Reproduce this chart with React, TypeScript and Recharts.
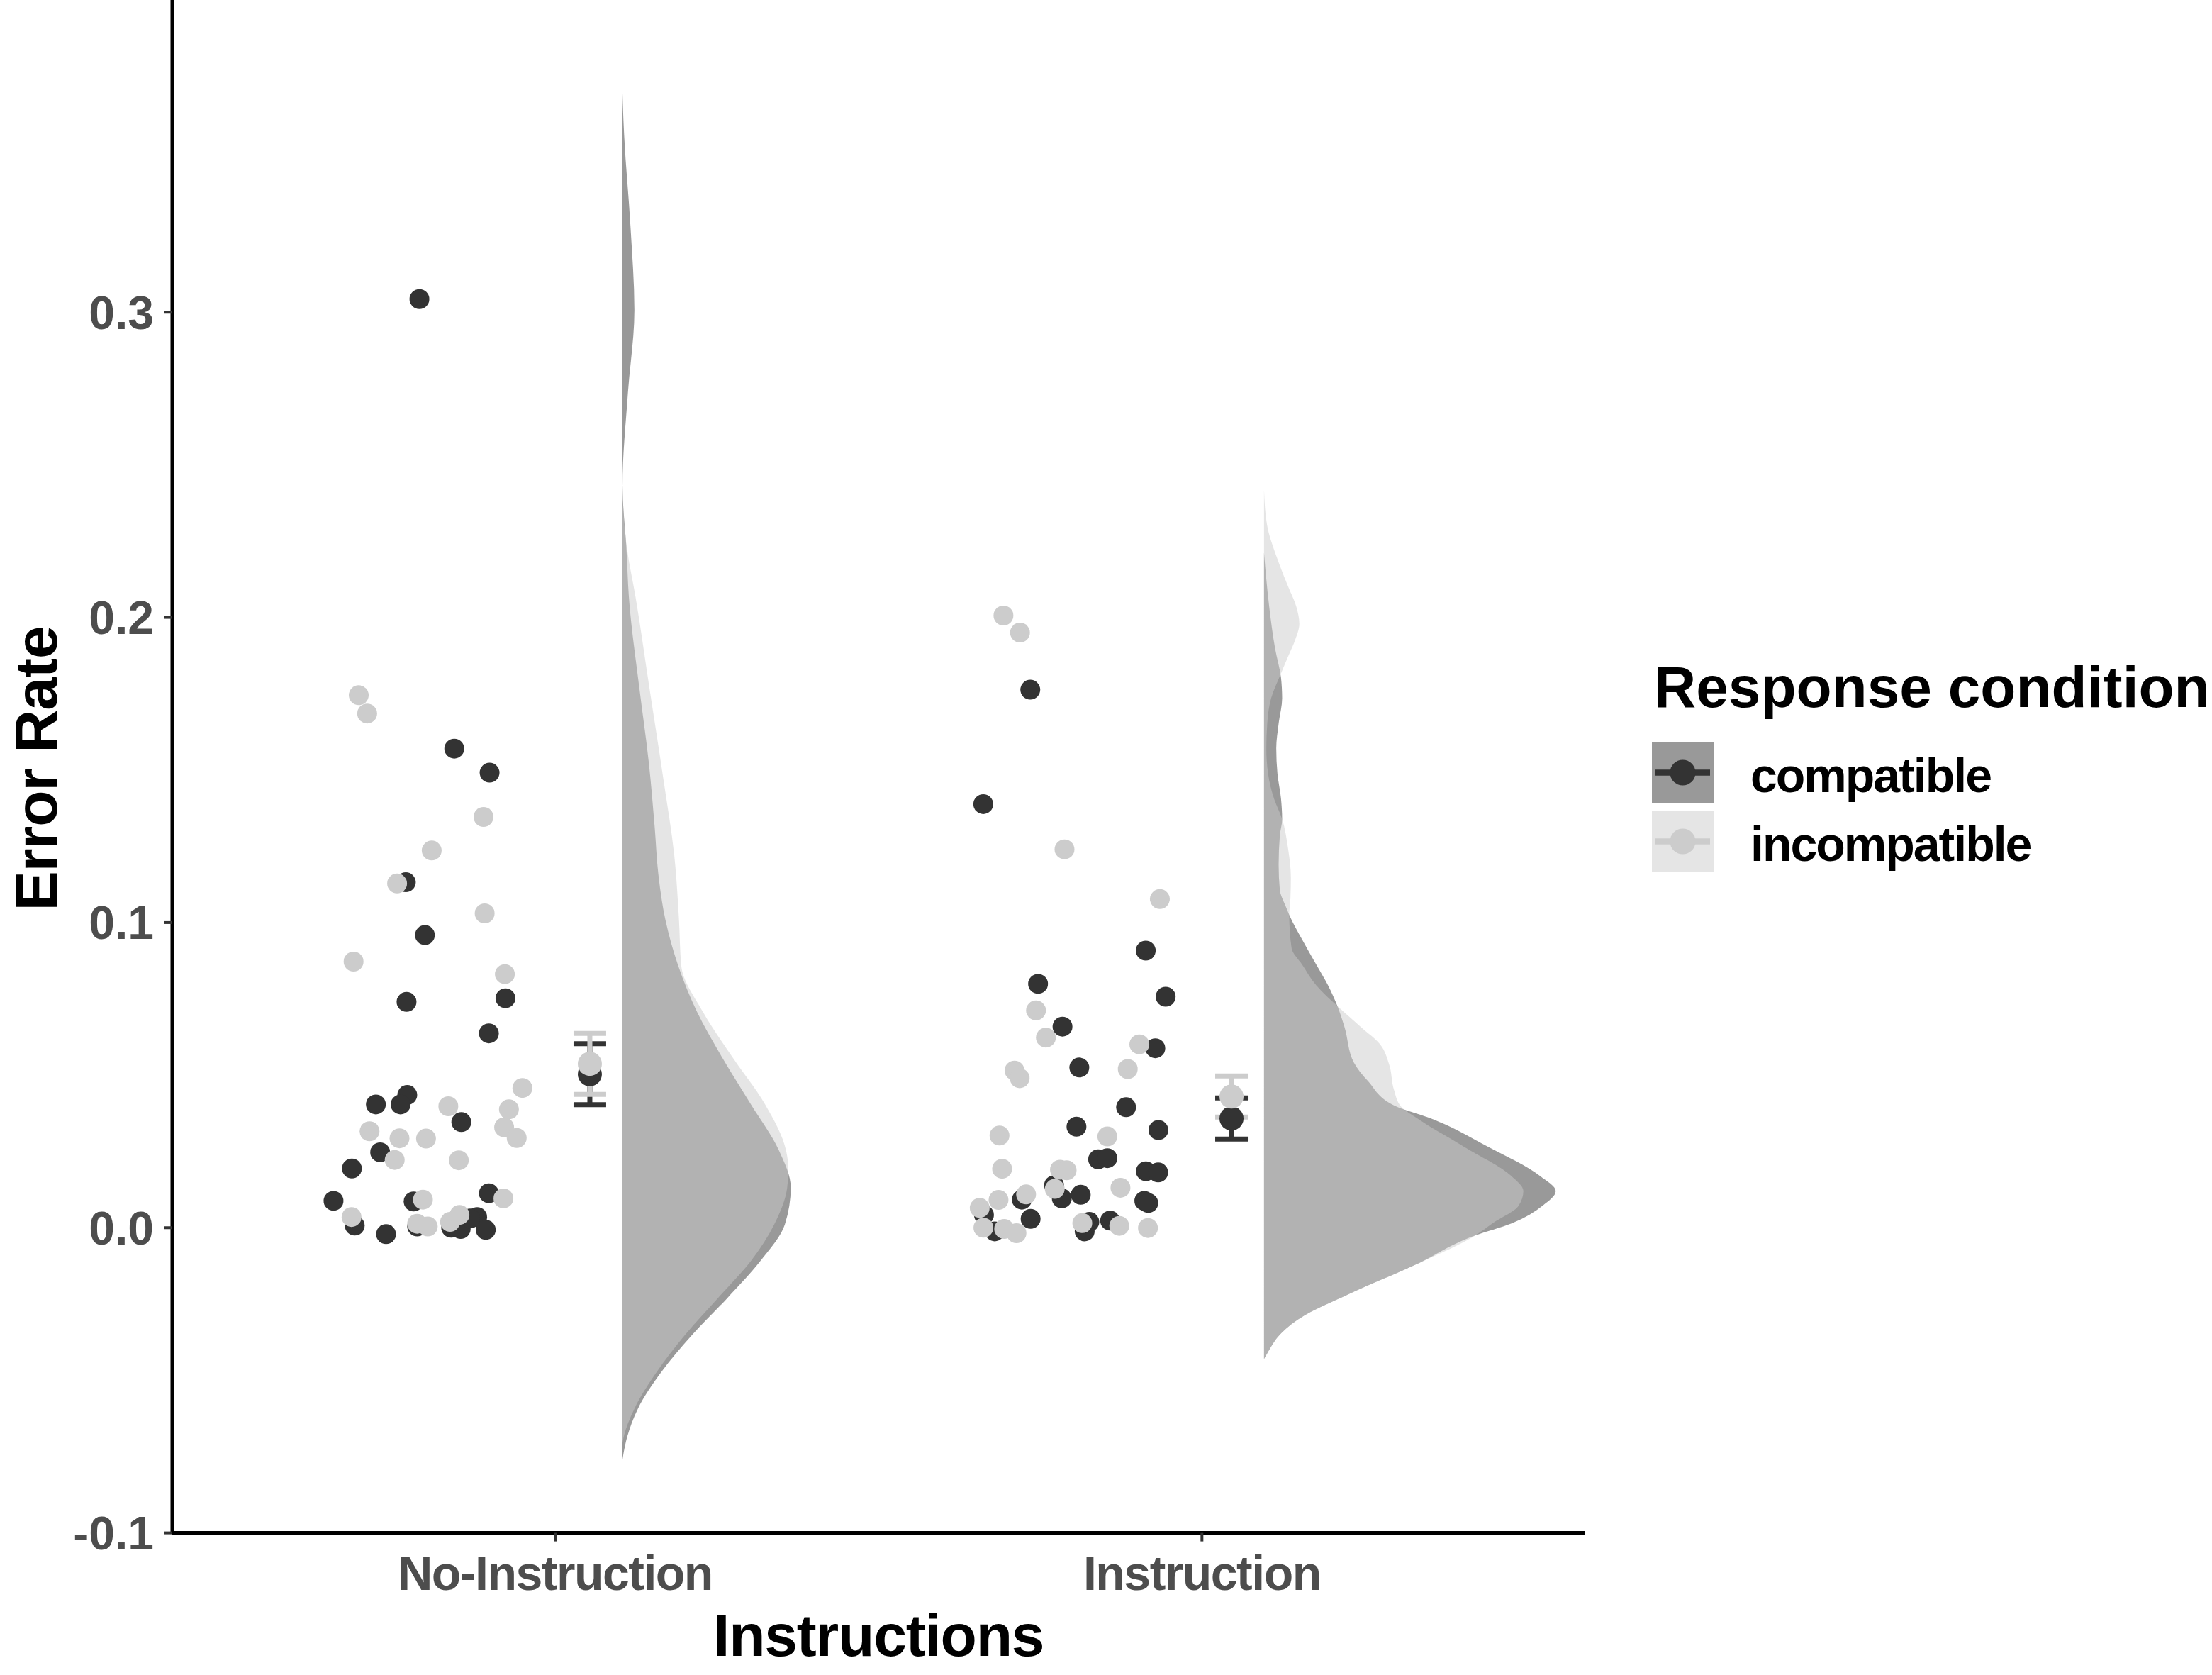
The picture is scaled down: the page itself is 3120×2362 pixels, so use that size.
import React from 'react';
import { ComposedChart, XAxis, YAxis, Scatter, Area, ErrorBar } from 'recharts';

// ---------- data ----------
const categories = ['No-Instruction', 'Instruction'];
const categoryPositions = [1, 2];
const yTicks = [-0.1, 0, 0.1, 0.2, 0.3];
const responseConditions = ['compatible', 'incompatible'];

// jittered participant points: [x in category units, error rate]
const noInstrCompatible = [
  [0.7901, 0.3043], [0.844, 0.157], [0.8986, 0.1491], [0.7691, 0.1132], [0.7986, 0.0959],
  [0.7702, 0.074], [0.9231, 0.0752], [0.8975, 0.0637], [0.7713, 0.0435], [0.761, 0.0404],
  [0.7228, 0.0404], [0.8549, 0.0346], [0.7294, 0.0247], [0.6857, 0.0194], [0.6573, 0.0088],
  [0.7811, 0.0086], [0.8975, 0.0113], [0.6901, 0.0007], [0.7385, -0.0021], [0.7866, 0.0004],
  [0.8392, 0.0], [0.8539, -0.0004], [0.8794, 0.0035], [0.8685, 0.003], [0.8927, -0.0007],
];
const noInstrIncompatible = [
  [0.6963, 0.1745], [0.7093, 0.1685], [0.8892, 0.1346], [0.8091, 0.1236], [0.7556, 0.1128],
  [0.891, 0.103], [0.6883, 0.0872], [0.9222, 0.0831], [0.9493, 0.0458], [0.9285, 0.0388],
  [0.9211, 0.0329], [0.9405, 0.0294], [0.8348, 0.0398], [0.713, 0.0316], [0.7593, 0.0293],
  [0.8003, 0.0292], [0.7519, 0.0222], [0.851, 0.0221], [0.7955, 0.0092], [0.92, 0.0096],
  [0.6852, 0.0035], [0.7866, 0.0013], [0.803, 0.0004], [0.8375, 0.0019], [0.8521, 0.0042],
];
const instrCompatible = [
  [1.7346, 0.1763], [1.6619, 0.1388], [1.9131, 0.0908], [1.7466, 0.0799], [1.9439, 0.0757],
  [1.7844, 0.0659], [1.9279, 0.0588], [1.8104, 0.0525], [1.8827, 0.0395], [1.806, 0.0331],
  [1.9327, 0.032], [1.8395, 0.0224], [1.8537, 0.0228], [1.9133, 0.0185], [1.9323, 0.0181],
  [1.7713, 0.0139], [1.7833, 0.0096], [1.8126, 0.0108], [1.7215, 0.0092], [1.9109, 0.0088],
  [1.917, 0.0081], [1.663, 0.0042], [1.7351, 0.0029], [1.6796, -0.0012], [1.8259, 0.0019],
  [1.8187, -0.0012], [1.858, 0.0023],
];
const instrIncompatible = [
  [1.6931, 0.2006], [1.7187, 0.195], [1.7875, 0.124], [1.9349, 0.1077], [1.7434, 0.0712],
  [1.7587, 0.0623], [1.9032, 0.0601], [1.8853, 0.052], [1.7102, 0.0515], [1.7182, 0.049],
  [1.687, 0.0302], [1.8537, 0.0299], [1.691, 0.0193], [1.7805, 0.019], [1.7908, 0.0188],
  [1.7724, 0.0127], [1.874, 0.0131], [1.7281, 0.0109], [1.6855, 0.0091], [1.6564, 0.0065],
  [1.6621, 0.0], [1.6942, -0.0004], [1.7132, -0.0018], [1.815, 0.0015], [1.8722, 0.0006],
  [1.9165, -0.0001],
];

// means with standard errors: [x, mean, se]
const meanCompatible = [[1.0536, 0.0503, 0.01], [2.0457, 0.0358, 0.00675]];
const meanIncompatible = [[1.0536, 0.0537, 0.01], [2.0457, 0.043, 0.00675]];

// half-violin density outlines: [error rate, width in category units]
const densityBase = [1.103, 2.096];
const densNoInstrCompatible = [
  [0.3794, 0], [0.3581, 0.0036], [0.3279, 0.0135], [0.3007, 0.0195], [0.2734, 0.0094],
  [0.2432, 0.0011], [0.222, 0.0073], [0.2069, 0.0109], [0.1766, 0.0273], [0.1524, 0.0418],
  [0.1312, 0.0509], [0.1161, 0.0564], [0.101, 0.0673], [0.0858, 0.0873], [0.0707, 0.1164],
  [0.0556, 0.1557], [0.0405, 0.1994], [0.0253, 0.2431], [0.0132, 0.2613], [0.0011, 0.2522],
  [-0.011, 0.214], [-0.0231, 0.163], [-0.0352, 0.1084], [-0.0473, 0.0611], [-0.0594, 0.0247],
  [-0.0685, 0.0084], [-0.0775, 0],
];
const densNoInstrIncompatible = [
  [0.2432, 0], [0.222, 0.0084], [0.2069, 0.0211], [0.1766, 0.0429], [0.1463, 0.0648],
  [0.1221, 0.0811], [0.101, 0.0884], [0.0858, 0.092], [0.0707, 0.1255], [0.0556, 0.172],
  [0.0405, 0.2213], [0.0253, 0.254], [0.0193, 0.2576], [0.0132, 0.2558], [0.0011, 0.2358],
  [-0.011, 0.1994], [-0.0231, 0.1485], [-0.0352, 0.0975], [-0.0473, 0.0539], [-0.0594, 0.0193],
  [-0.0685, 0.003], [-0.072, 0],
];
const densInstrCompatible = [
  [0.2211, 0], [0.2035, 0.008], [0.1898, 0.0171], [0.1803, 0.0262], [0.1735, 0.028],
  [0.1652, 0.0226], [0.1571, 0.0189], [0.1489, 0.0207], [0.1407, 0.0262], [0.1339, 0.028],
  [0.1284, 0.0244], [0.1189, 0.0226], [0.1107, 0.0244], [0.1053, 0.0335], [0.1025, 0.039],
  [0.0944, 0.059], [0.0862, 0.0808], [0.0794, 0.099], [0.0726, 0.1135], [0.0657, 0.1245],
  [0.0541, 0.139], [0.048, 0.161], [0.0397, 0.205], [0.0362, 0.253], [0.0266, 0.3456],
  [0.0169, 0.427], [0.012, 0.451], [0.0072, 0.4307], [0.0014, 0.3826], [-0.0025, 0.327],
  [-0.0121, 0.2344], [-0.0218, 0.1307], [-0.0295, 0.0567], [-0.0353, 0.0233], [-0.0405, 0.0067],
  [-0.043, 0],
];
const densInstrIncompatible = [
  [0.2416, 0], [0.2306, 0.0044], [0.217, 0.0244], [0.2102, 0.0371], [0.2035, 0.0499],
  [0.1979, 0.0546], [0.1925, 0.048], [0.1871, 0.0371], [0.1816, 0.0262], [0.1735, 0.011],
  [0.1652, 0.005], [0.1571, 0.0036], [0.1489, 0.0062], [0.1407, 0.0153], [0.1339, 0.028],
  [0.1243, 0.0371], [0.1148, 0.0415], [0.108, 0.0408], [0.1025, 0.039], [0.0916, 0.0426],
  [0.0862, 0.059], [0.0794, 0.0808], [0.0726, 0.1135], [0.0657, 0.15], [0.0602, 0.179],
  [0.0534, 0.1936], [0.0452, 0.2009], [0.0397, 0.2118], [0.0362, 0.2344], [0.0266, 0.3085],
  [0.0169, 0.3826], [0.012, 0.401], [0.0072, 0.3937], [0.0014, 0.353], [-0.0025, 0.327],
  [-0.0121, 0.2344], [-0.0218, 0.1307], [-0.0295, 0.0567], [-0.0353, 0.0233], [-0.0405, 0.0067],
  [-0.043, 0],
];

// ---------- styling ----------
const W = 3120;
const H = 2362;
const DARK = '#333333';
const LIGHT = '#CCCCCC';
const FONT = '"Liberation Sans", Arial, Helvetica, sans-serif';

const toPoints = (arr: number[][]) => arr.map(([x, y]) => ({ x, y }));
const toMeans = (arr: number[][]) => arr.map(([x, y, se]) => ({ x, y, se }));
const toDensity = (arr: number[][], base: number) => arr.map(([y, w]) => ({ y, x: base + w }));

const compatiblePoints = [...toPoints(noInstrCompatible), ...toPoints(instrCompatible)];
const incompatiblePoints = [...toPoints(noInstrIncompatible), ...toPoints(instrIncompatible)];

const makeDot = (fill: string, r: number) => (props: any) =>
  props.cx == null ? <g /> : <circle cx={props.cx} cy={props.cy} r={r} fill={fill} />;

const XTick = (props: any) => {
  const { x, y, payload } = props;
  const idx = categoryPositions.indexOf(payload.value);
  return (
    <text x={x} y={y} dy="0.71em" textAnchor="middle" fill="#4D4D4D"
      style={{ fontFamily: FONT, fontSize: 68, fontWeight: 700, letterSpacing: -1.5 }}>
      {idx >= 0 ? categories[idx] : ''}
    </text>
  );
};

const YTick = (props: any) => {
  const { x, y, payload } = props;
  return (
    <text x={x} y={y} dy="0.355em" textAnchor="end" fill="#4D4D4D"
      style={{ fontFamily: FONT, fontSize: 66, fontWeight: 700 }}>
      {Number(payload.value).toFixed(1)}
    </text>
  );
};

const XTitle = (props: any) => {
  const vb = props.viewBox || { x: 0, y: 0, width: 0, height: 0 };
  return (
    <text x={vb.x + vb.width / 2} y={vb.y + vb.height - 27} textAnchor="middle" fill="#000"
      style={{ fontFamily: FONT, fontSize: 84, fontWeight: 700, letterSpacing: -1.2 }}>
      Instructions
    </text>
  );
};

const YTitle = (props: any) => {
  const vb = props.viewBox || { x: 0, y: 0, width: 0, height: 0 };
  const cx = vb.x + 80;
  const cy = vb.y + vb.height / 2 + 3;
  return (
    <text x={cx} y={cy} transform={`rotate(-90, ${cx}, ${cy})`} textAnchor="middle" fill="#000"
      style={{ fontFamily: FONT, fontSize: 84, fontWeight: 700, letterSpacing: -1 }}>
      Error Rate
    </text>
  );
};

const LegendOverlay = () => {
  const keys = [
    { name: responseConditions[0], box: '#999999', mark: DARK, top: 1046 },
    { name: responseConditions[1], box: '#E5E5E5', mark: LIGHT, top: 1143 },
  ];
  return (
    <svg width={W} height={H} style={{ position: 'absolute', left: 0, top: 0, pointerEvents: 'none' }}>
      <text x={2333} y={997} fill="#000" style={{ fontFamily: FONT, fontSize: 82, fontWeight: 700 }}>
        Response condition
      </text>
      {keys.map((k) => (
        <g key={k.name}>
          <rect x={2330} y={k.top} width={87} height={87} fill={k.box} />
          <line x1={2335} x2={2412} y1={k.top + 43.5} y2={k.top + 43.5} stroke={k.mark} strokeWidth={8.5} />
          <circle cx={2373.5} cy={k.top + 43.5} r={18} fill={k.mark} />
          <text x={2469} y={k.top + 71} fill="#000"
            style={{ fontFamily: FONT, fontSize: 68, fontWeight: 700, letterSpacing: -2 }}>
            {k.name}
          </text>
        </g>
      ))}
    </svg>
  );
};

export default function App() {
  return (
    <div style={{ position: 'absolute', left: 0, top: 0, width: W, height: H, background: '#fff' }}>
      <ComposedChart width={W} height={H} layout="vertical"
        margin={{ top: 0, right: 884.6, bottom: 0, left: 0 }}>
        <XAxis type="number" dataKey="x" domain={[0.408, 2.592]} allowDataOverflow
          ticks={categoryPositions} interval={0} tick={<XTick />} height={200.4}
          tickSize={12} tickMargin={20} tickLine={{ stroke: DARK, strokeWidth: 4 }}
          axisLine={{ stroke: '#000', strokeWidth: 5 }} label={{ content: <XTitle /> }} />
        <YAxis type="number" dataKey="y" domain={[-0.1, 0.4023]} allowDataOverflow reversed
          ticks={yTicks} interval={0} tick={<YTick />} width={243}
          tickSize={12} tickMargin={14} tickLine={{ stroke: DARK, strokeWidth: 4 }}
          axisLine={{ stroke: '#000', strokeWidth: 5 }} label={{ content: <YTitle /> }} />

        <Scatter name="compatible" data={compatiblePoints} shape={makeDot(DARK, 14)} isAnimationActive={false} />
        <Scatter name="incompatible" data={incompatiblePoints} shape={makeDot(LIGHT, 14)} isAnimationActive={false} />

        <Scatter name="compatible mean" data={toMeans(meanCompatible)} shape={makeDot(DARK, 17)} isAnimationActive={false}>
          <ErrorBar dataKey="se" direction="y" width={23} strokeWidth={7} stroke={DARK} isAnimationActive={false} />
        </Scatter>
        <Scatter name="incompatible mean" data={toMeans(meanIncompatible)} shape={makeDot(LIGHT, 17)} isAnimationActive={false}>
          <ErrorBar dataKey="se" direction="y" width={23} strokeWidth={7} stroke={LIGHT} isAnimationActive={false} />
        </Scatter>

        <Area data={toDensity(densNoInstrCompatible, densityBase[0])} dataKey="x" baseValue={densityBase[0]}
          type="monotone" stroke="none" fill={DARK} fillOpacity={0.5} isAnimationActive={false} dot={false} activeDot={false} />
        <Area data={toDensity(densInstrCompatible, densityBase[1])} dataKey="x" baseValue={densityBase[1]}
          type="monotone" stroke="none" fill={DARK} fillOpacity={0.5} isAnimationActive={false} dot={false} activeDot={false} />
        <Area data={toDensity(densNoInstrIncompatible, densityBase[0])} dataKey="x" baseValue={densityBase[0]}
          type="monotone" stroke="none" fill={LIGHT} fillOpacity={0.5} isAnimationActive={false} dot={false} activeDot={false} />
        <Area data={toDensity(densInstrIncompatible, densityBase[1])} dataKey="x" baseValue={densityBase[1]}
          type="monotone" stroke="none" fill={LIGHT} fillOpacity={0.5} isAnimationActive={false} dot={false} activeDot={false} />
      </ComposedChart>
      <LegendOverlay />
    </div>
  );
}
